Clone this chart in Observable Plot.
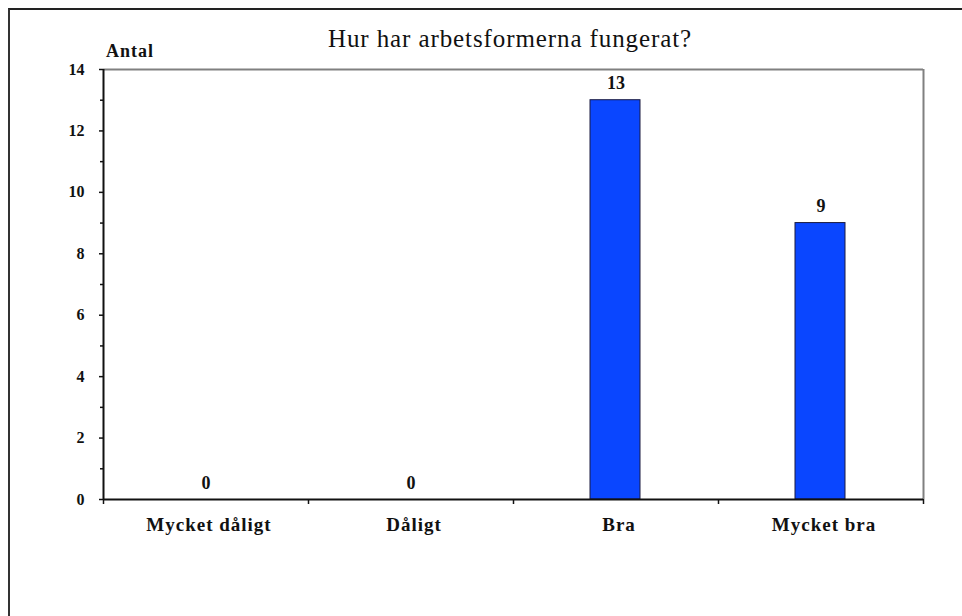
<!DOCTYPE html>
<html>
<head>
<meta charset="utf-8">
<script src="https://cdn.jsdelivr.net/npm/d3@7"></script>
<script src="https://cdn.jsdelivr.net/npm/@observablehq/plot@0.6"></script>
<style>
  html, body { margin: 0; padding: 0; background: #fff; overflow: hidden; }
  #wrap { position: relative; width: 962px; height: 616px; font-family: "Liberation Serif", "Times New Roman", serif; }
  #border { position: absolute; left: 8px; top: 8px; width: 1200px; height: 1200px; border-left: 2px solid #333; border-top: 2px solid #222; box-sizing: border-box; }
  #title { position: absolute; left: 0; width: 1020px; top: 26px; text-align: center; font-size: 25px; line-height: 25px; letter-spacing: 0.9px; color: #111; }
  #ylab { position: absolute; left: 106px; top: 42px; font-size: 18px; line-height: 18px; font-weight: bold; letter-spacing: 1px; color: #111; }
  #chart { position: absolute; left: 0; top: 0; }
</style>
</head>
<body>
<div id="wrap">
  <div id="border"></div>
  <div id="chart"></div>
  <div id="title">Hur har arbetsformerna fungerat?</div>
  <div id="ylab">Antal</div>
</div>
<script>
const categories = ["Mycket dåligt", "Dåligt", "Bra", "Mycket bra"];
const values = [0, 0, 13, 9];
const yTicks = [0, 2, 4, 6, 8, 10, 12, 14];
const yMinorTicks = [1, 3, 5, 7, 9, 11, 13];

const data = categories.map((c, i) => ({category: c, value: values[i], i}));
const barColor = "#0a46ff";

const chart = Plot.plot({
  width: 962,
  height: 616,
  marginLeft: 103,
  marginRight: 39,
  marginTop: 69,
  marginBottom: 117,
  style: {fontFamily: "'Liberation Serif', 'Times New Roman', serif", background: "transparent", color: "#111"},
  x: {domain: [0, categories.length], axis: null},
  y: {domain: [0, 14], axis: null},
  marks: [
    Plot.ruleY([14], {stroke: "#808080", strokeWidth: 2}),
    Plot.ruleX([categories.length], {stroke: "#808080", strokeWidth: 2}),
    Plot.rectY(data.filter(d => d.value > 0), {
      x1: d => d.i, x2: d => d.i + 1, y1: 0, y2: "value",
      insetLeft: 77, insetRight: 78,
      fill: barColor, stroke: "#1a1a40", strokeWidth: 1
    }),
    Plot.axisY({ticks: yMinorTicks, tickSize: 3, tickFormat: () => "", label: null, stroke: "#111", strokeWidth: 1.5}),
    Plot.axisY({ticks: yTicks, tickSize: 4, tickPadding: 15, fontSize: 16, fontWeight: "bold", label: null, tickFormat: d => String(d), stroke: "#111", strokeWidth: 1.5}),
    Plot.axisX({ticks: d3.range(categories.length + 1), tickSize: 5, tickFormat: () => "", label: null, stroke: "#111", strokeWidth: 1.5}),
    Plot.ruleX([0], {stroke: "#111", strokeWidth: 2}),
    Plot.ruleY([0], {stroke: "#111", strokeWidth: 2}),
    Plot.text(data, {
      x: d => d.i + 0.5, y: "value", text: d => String(d.value),
      dy: -11, lineAnchor: "bottom", fontSize: 18, fontWeight: "bold", fill: "#111"
    }),
    Plot.text(data, {
      x: d => d.i + 0.5, y: 0, text: "category",
      dy: 31, dx: 3, lineAnchor: "bottom", fontSize: 19, fontWeight: "bold", fill: "#111"
    })
  ]
});
const textGroups = chart.querySelectorAll('g[aria-label="text"]');
if (textGroups.length) {
  textGroups[textGroups.length - 1].style.letterSpacing = "1px";
}
document.getElementById("chart").appendChild(chart);
</script>
</body>
</html>
